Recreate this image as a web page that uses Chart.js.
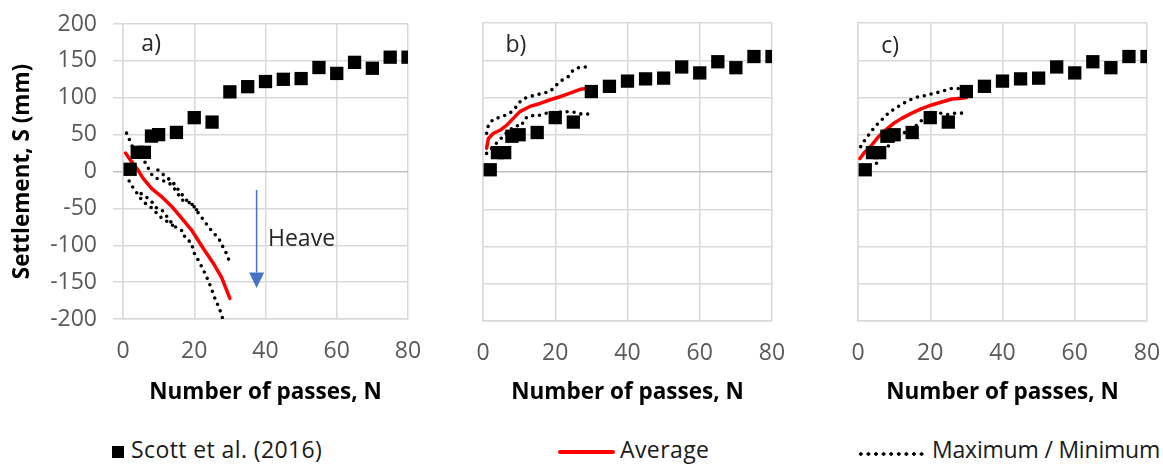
<!DOCTYPE html>
<html>
<head>
<meta charset="utf-8">
<script src="https://cdn.jsdelivr.net/npm/chart.js@4.4.1/dist/chart.umd.min.js"></script>
<style>
  body { margin: 0; background: #fff; }
  #wrap { position: relative; width: 1163px; height: 465px; overflow: hidden; font-family: 'Open Sans', sans-serif; }
  .panel { position: absolute; top: 0; }
  .lg { position: absolute; }
  .lg-text { position: absolute; top: 438px; font-size: 23px; line-height: 23px; color: #1a1a1a; white-space: nowrap; }
  .lg-square { left: 112px; top: 446px; width: 12px; height: 12px; background: #000; }
  .lg-red { left: 558px; top: 450px; width: 57px; height: 4px; border-radius: 2px; background: #ff0000; }
  .lg-dots { left: 857px; top: 451px; width: 70px; height: 6px;
    background-image: radial-gradient(circle, #000 1.5px, transparent 2.1px);
    background-size: 7.6px 6px; }
</style>
</head>
<body>
<div id="wrap">
  <div class="panel" style="left:0px"><canvas id="panelA" width="425" height="415"></canvas></div>
  <div class="panel" style="left:430px"><canvas id="panelB" width="360" height="415"></canvas></div>
  <div class="panel" style="left:805px"><canvas id="panelC" width="356" height="415"></canvas></div>

  <div class="lg lg-square"></div>
  <div class="lg-text" style="left:131px; letter-spacing:0.4px">Scott et al. (2016)</div>
  <div class="lg lg-red"></div>
  <div class="lg-text" style="left:620px; letter-spacing:0.4px">Average</div>
  <div class="lg lg-dots"></div>
  <div class="lg-text" style="left:932px; letter-spacing:-0.2px">Maximum / Minimum</div>
</div>

<script>
// measured settlement (Scott et al. 2016), same in every panel
const N_SCOTT = [2, 4, 6, 8, 10, 15, 20, 25, 30, 35, 40, 45, 50, 55, 60, 65, 70, 75, 80];
const S_SCOTT = [3, 26, 26, 48, 50, 53, 73, 67, 108, 115, 122, 125, 126, 141, 133, 148, 140, 155, 155];

// panel a) model results
const N_AVG_A = [0.7, 2.3, 4.2, 5.6, 8, 10.8, 13.6, 16.4, 19.2, 22.5, 25.3, 27.7, 30];
const S_AVG_A = [25, 14, 2, -9, -23, -34, -47, -63, -79, -104, -124, -144, -172];
const N_MAX1_A = [1, 2, 3, 4.5, 6.5, 7.5, 8.5, 10.3, 12.2, 13.6, 15, 16.4, 17.4, 19.3, 21.1, 22.5, 24, 25.3, 26.8, 27.7, 28.9, 29.8];
const S_MAX1_A = [52, 41, 30, 20, 11, 0, -7, -11, -14, -18, -27, -38, -41, -43, -56, -65, -75, -83, -90, -99, -110, -121];
const N_MAX2_A = [9.8, 10.7, 12.6, 14.2, 16, 18.2, 20.1, 21.1];
const S_MAX2_A = [2, -2, -9, -16, -28, -41, -47, -56];
const N_MIN1_A = [1, 2, 3.3, 5.6, 7.5, 9, 10.3, 11.8, 13.1, 15];
const S_MIN1_A = [-4, -16, -25, -41, -47, -54, -61, -66, -70, -77];
const N_MIN2_A = [5.1, 7.2, 8.4, 9.5, 10.9, 12.3, 13.7, 15.1, 16.9, 17.4, 19.3, 19.7, 21.1, 22.1, 23, 24, 24.9, 25.8, 26.8, 27.7, 28];
const S_MIN2_A = [-30, -37, -43, -50, -52, -61, -70, -77, -81, -90, -97, -108, -120, -129, -138, -149, -160, -172, -183, -194, -200];

// panel b)
const N_AVG_B = [1, 1.5, 2.9, 4.7, 6.6, 8.4, 10.2, 13, 15.8, 18.6, 21.3, 24.1, 26.9, 28.7];
const S_AVG_B = [32, 45, 52, 56, 63, 72, 81, 88, 92, 97, 101, 106, 111, 112];
const N_MAX_B = [1, 1.5, 2.9, 5.2, 7.5, 9.1, 10.7, 12.6, 14.4, 16.7, 18.6, 19.9, 21.8, 23.6, 25, 26.9, 29.2];
const S_MAX_B = [52, 63, 71, 74, 79, 87, 97, 101, 103, 106, 108, 115, 123, 128, 137, 141, 141];
const N_MIN_B = [1, 3, 5, 7, 8.9, 10.7, 11.4, 13, 14.9, 17.6, 20.4, 23.2, 26, 27.6, 29.6];
const S_MIN_B = [25, 35, 45, 55, 62, 62, 71, 76, 75, 79, 80, 81, 80, 77, 78];

// panel c)
const N_AVG_C = [0.55, 1.9, 3.8, 5.6, 7.5, 9.8, 12.1, 14.9, 17.6, 20.4, 23.2, 26, 28.7, 30];
const S_AVG_C = [18, 27, 36, 47, 56, 65, 72, 79, 85, 90, 94, 98, 99, 100];
const N_MAX_C = [0.75, 1.9, 3.3, 4.7, 7, 8.4, 10.2, 12.5, 14.4, 16.7, 19, 21.3, 23.2, 25.5, 27.8];
const S_MAX_C = [34, 43, 52, 61, 72, 79, 85, 92, 97, 101, 103, 106, 108, 112, 112];
const N_MIN_C = [1.5, 3, 5.2, 7.5, 9, 11.5, 13.5, 15.5, 17.2, 19, 21, 22.7, 25, 27, 29.2];
const S_MIN_C = [5, 8, 12, 30, 38, 48, 55, 59, 68, 72, 76, 79, 77, 79, 79];

const X_TICKS = [0, 20, 40, 60, 80];
const Y_TICKS = [-200, -150, -100, -50, 0, 50, 100, 150, 200];

const FONT = "'Open Sans', sans-serif";

function pts(n, s) {
  return n.map((x, i) => ({ x: x, y: s[i] }));
}

function scottSet() {
  return {
    label: 'Scott et al. (2016)', data: pts(N_SCOTT, S_SCOTT), showLine: false,
    pointStyle: 'rect', pointRadius: 9.4, pointHoverRadius: 9.4,
    backgroundColor: '#000', borderColor: '#000', pointBorderWidth: 0
  };
}

function avgSet(n, s) {
  return {
    label: 'Average', data: pts(n, s), showLine: true, pointRadius: 0,
    borderColor: '#ff0000', borderWidth: 3.5, borderCapStyle: 'round', borderJoinStyle: 'round'
  };
}

function dotSet(n, s) {
  return {
    label: 'Maximum / Minimum', data: pts(n, s), showLine: true, pointRadius: 0,
    borderColor: '#000', borderWidth: 3.6, borderDash: [0, 7], borderCapStyle: 'round'
  };
}

// panel letter plus optional "Heave" arrow
function notes(letter, lx, ly, heave) {
  return {
    id: 'notes',
    afterDatasetsDraw(chart) {
      const { ctx, scales: { x, y } } = chart;
      ctx.save();
      ctx.fillStyle = '#262626';
      ctx.font = '23px ' + FONT;
      ctx.textAlign = 'center';
      ctx.textBaseline = 'middle';
      ctx.fillText(letter, x.getPixelForValue(lx), y.getPixelForValue(ly));
      if (heave) {
        const ax = x.getPixelForValue(37.5);
        const top = y.getPixelForValue(-25);
        const headTop = y.getPixelForValue(-137);
        const tip = y.getPixelForValue(-158);
        ctx.strokeStyle = '#4472c4';
        ctx.fillStyle = '#4472c4';
        ctx.lineWidth = 1.5;
        ctx.beginPath();
        ctx.moveTo(ax, top);
        ctx.lineTo(ax, headTop);
        ctx.stroke();
        ctx.beginPath();
        ctx.moveTo(ax - 7.5, headTop);
        ctx.lineTo(ax + 7.5, headTop);
        ctx.lineTo(ax, tip);
        ctx.closePath();
        ctx.fill();
        ctx.fillStyle = '#262626';
        ctx.textAlign = 'left';
        ctx.fillText('Heave', x.getPixelForValue(40.7), y.getPixelForValue(-92.5));
      }
      ctx.restore();
    }
  };
}

// drop the label overhang so layout.padding alone places the plot area
function noOverhang(s) {
  s.paddingLeft = 0;
  s.paddingRight = 0;
  s.paddingTop = 0;
  s.paddingBottom = 0;
}

function makePanel(id, datasets, cfg) {
  return new Chart(document.getElementById(id), {
    type: 'scatter',
    data: { datasets: datasets },
    plugins: [cfg.plugin],
    options: {
      responsive: false,
      animation: false,
      devicePixelRatio: 1,
      layout: { padding: { left: 0, top: cfg.top, right: cfg.right, bottom: 0 } },
      plugins: { legend: { display: false }, tooltip: { enabled: false } },
      scales: {
        x: {
          type: 'linear', min: 0, max: 80,
          afterBuildTicks: (s) => { s.ticks = X_TICKS.map(v => ({ value: v })); },
          afterFit: (s) => { s.height = cfg.xHeight; noOverhang(s); },
          grid: { color: '#d9d9d9', lineWidth: 1.5, drawTicks: false },
          border: { color: '#d9d9d9', width: 1.5 },
          ticks: { padding: 19, color: '#595959', font: { family: FONT, size: 23 } },
          title: {
            display: true, text: 'Number of passes, N', color: '#000',
            font: { family: FONT, size: 22.5, weight: 'bold' }, padding: { top: 0, bottom: 9 }
          }
        },
        y: {
          type: 'linear', min: -200, max: 200,
          afterBuildTicks: (s) => { s.ticks = Y_TICKS.map(v => ({ value: v })); },
          afterFit: (s) => { s.width = cfg.yWidth; noOverhang(s); },
          grid: {
            color: (c) => (c.tick && c.tick.value === 0 ? '#bfbfbf' : '#d9d9d9'),
            lineWidth: 1.5, drawTicks: cfg.yLabels, tickLength: 10
          },
          border: { color: '#d9d9d9', width: 1.5 },
          ticks: { display: cfg.yLabels, padding: 16, color: '#595959', font: { family: FONT, size: 23 } },
          title: {
            display: cfg.yLabels, text: 'Settlement, S (mm)', color: '#000',
            font: { family: FONT, size: 22.5, weight: 'bold' }, padding: { top: 9, bottom: 0 }
          }
        }
      }
    }
  });
}

makePanel('panelA', [
  scottSet(),
  avgSet(N_AVG_A, S_AVG_A),
  dotSet(N_MAX1_A, S_MAX1_A),
  dotSet(N_MAX2_A, S_MAX2_A),
  dotSet(N_MIN1_A, S_MIN1_A),
  dotSet(N_MIN2_A, S_MIN2_A)
], { top: 24, right: 17, xHeight: 96, yWidth: 123, yLabels: true, plugin: notes('a)', 7.9, 172, true) });

makePanel('panelB', [
  scottSet(),
  avgSet(N_AVG_B, S_AVG_B),
  dotSet(N_MAX_B, S_MAX_B),
  dotSet(N_MIN_B, S_MIN_B)
], { top: 23, right: 18, xHeight: 94, yWidth: 53, yLabels: false, plugin: notes('b)', 9.1, 170, false) });

makePanel('panelC', [
  scottSet(),
  avgSet(N_AVG_C, S_AVG_C),
  dotSet(N_MAX_C, S_MAX_C),
  dotSet(N_MIN_C, S_MIN_C)
], { top: 23, right: 14, xHeight: 94, yWidth: 53, yLabels: false, plugin: notes('c)', 8.9, 168, false) });
</script>
</body>
</html>
